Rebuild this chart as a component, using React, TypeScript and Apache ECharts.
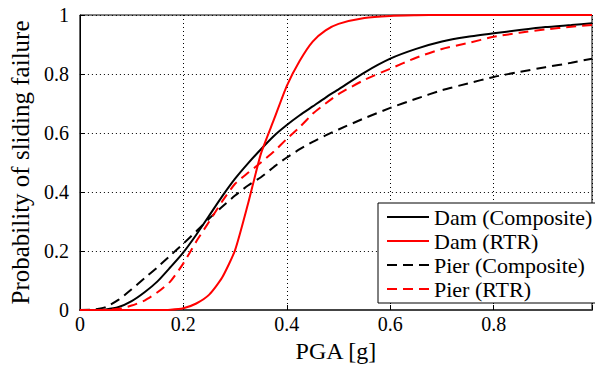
import React, { useEffect, useRef } from "react";
import * as echarts from "echarts";

const PGA = [0, 0.025, 0.05, 0.075, 0.1, 0.125, 0.15, 0.175, 0.2, 0.225, 0.25, 0.275, 0.3, 0.325, 0.35, 0.375, 0.4, 0.425, 0.45, 0.475, 0.5, 0.55, 0.6, 0.65, 0.7, 0.75, 0.8, 0.85, 0.9, 0.95, 0.99];

const damComposite = [0, 0, 0.002, 0.01, 0.03, 0.06, 0.097, 0.145, 0.195, 0.255, 0.32, 0.385, 0.445, 0.497, 0.545, 0.59, 0.627, 0.66, 0.69, 0.72, 0.748, 0.805, 0.852, 0.885, 0.91, 0.926, 0.938, 0.949, 0.959, 0.966, 0.972];
const damRTR = [0, 0, 0, 0, 0, 0, 0, 0.001, 0.006, 0.022, 0.052, 0.11, 0.203, 0.36, 0.53, 0.645, 0.76, 0.845, 0.91, 0.948, 0.97, 0.99, 0.997, 0.999, 1, 1, 1, 1, 1, 1, 1];
const pierComposite = [0, 0.001, 0.01, 0.035, 0.07, 0.108, 0.145, 0.185, 0.225, 0.267, 0.31, 0.35, 0.388, 0.422, 0.45, 0.485, 0.517, 0.545, 0.57, 0.592, 0.612, 0.65, 0.685, 0.716, 0.745, 0.768, 0.79, 0.807, 0.823, 0.838, 0.852];
const pierRTR = [0, 0, 0.001, 0.004, 0.015, 0.032, 0.06, 0.097, 0.158, 0.232, 0.3, 0.368, 0.428, 0.465, 0.5, 0.537, 0.58, 0.62, 0.665, 0.7, 0.732, 0.78, 0.818, 0.855, 0.885, 0.905, 0.926, 0.94, 0.951, 0.96, 0.966];

const SERIES_NAMES = ["Dam (Composite)", "Dam (RTR)", "Pier (Composite)", "Pier (RTR)"];
const X_TICKS = [0, 0.2, 0.4, 0.6, 0.8];

const FONT = "Liberation Serif";

echarts.registerTheme("serifTheme", { textStyle: { fontFamily: FONT } });

export default function App() {
  const ref = useRef<HTMLDivElement>(null);
  useEffect(() => {
    document.body.style.margin = "0";
    const chart = echarts.init(ref.current!, "serifTheme", { renderer: "svg" });
    const pair = (vals: number[]) => PGA.map((x, i) => [x, vals[i]]);
    const mk = (name: string, vals: number[], color: string, dashed: boolean) => ({
      name,
      type: "line",
      data: pair(vals),
      symbol: "none",
      showSymbol: false,
      smooth: 0.2,
      lineStyle: { color, width: 2, type: dashed ? [10, 6] : "solid" },
      itemStyle: { color },
    });
    chart.setOption({
      animation: false,
      grid: { left: 75, top: 15, right: 0, bottom: 60, show: true, borderColor: "#000", borderWidth: 1 },
      legend: {
        orient: "vertical",
        left: 378,
        top: 203,
        itemWidth: 42,
        itemHeight: 14,
        itemGap: 0,
        padding: [2, 6, 2, 8],
        backgroundColor: "#fff",
        borderColor: "#000",
        borderWidth: 1,
        borderRadius: 0,
        itemStyle: { opacity: 0 },
        data: SERIES_NAMES,
        textStyle: { fontFamily: FONT, fontSize: 22, color: "#000", lineHeight: 24 },
      },
      xAxis: {
        type: "value",
        min: 0,
        max: 0.99,
        interval: 0.2,
        name: "PGA [g]",
        nameLocation: "middle",
        nameGap: 27,
        nameTextStyle: { fontFamily: FONT, fontSize: 24, color: "#000" },
        axisLine: { show: true, lineStyle: { color: "#444", width: 2 } },
        axisTick: { show: true, inside: true, length: 5, lineStyle: { color: "#000" } },
        axisLabel: {
          fontFamily: FONT,
          fontSize: 20,
          color: "#000",
          margin: 4,
          formatter: (v: number) => (X_TICKS.some((t) => Math.abs(t - v) < 1e-9) ? String(+v.toFixed(1)) : ""),
        },
        splitLine: { show: true, lineStyle: { color: "#000", width: 1, type: [1, 3] } },
      },
      yAxis: {
        type: "value",
        min: 0,
        max: 1,
        interval: 0.2,
        name: "Probability of sliding failure",
        nameLocation: "middle",
        nameGap: 39,
        nameTextStyle: { fontFamily: FONT, fontSize: 25, color: "#000" },
        axisLine: { show: true, lineStyle: { color: "#000", width: 1 } },
        axisTick: { show: true, inside: true, length: 5, lineStyle: { color: "#000" } },
        axisLabel: {
          fontFamily: FONT,
          fontSize: 20,
          color: "#000",
          margin: 11,
          formatter: (v: number) => String(+v.toFixed(1)),
        },
        splitLine: { show: true, lineStyle: { color: "#000", width: 1, type: [1, 3] } },
      },
      series: [
        mk(SERIES_NAMES[0], damComposite, "#000", false),
        mk(SERIES_NAMES[1], damRTR, "#ff0000", false),
        mk(SERIES_NAMES[2], pierComposite, "#000", true),
        mk(SERIES_NAMES[3], pierRTR, "#ff0000", true),
      ],
    });
    return () => chart.dispose();
  }, []);
  return <div ref={ref} style={{ position: "fixed", left: 0, top: 0, width: 595, height: 370, background: "#fff" }} />;
}
